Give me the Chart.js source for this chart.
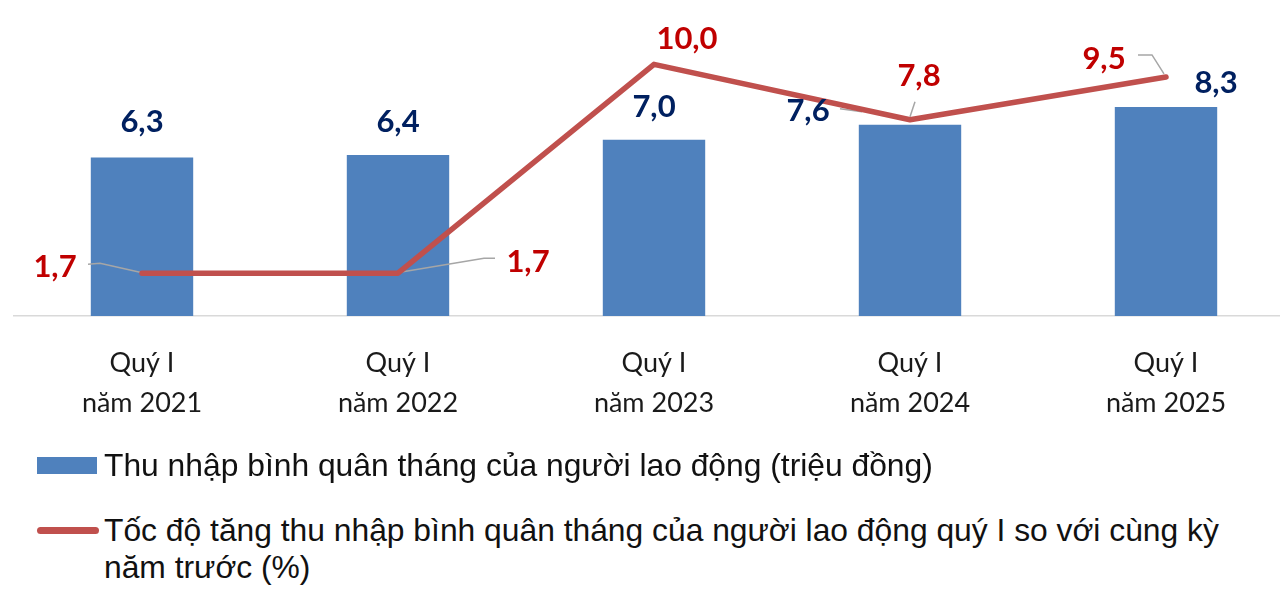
<!DOCTYPE html>
<html lang="vi">
<head>
<meta charset="utf-8">
<title>Thu nhập bình quân quý I</title>
<script src="https://cdn.jsdelivr.net/npm/chart.js@4.4.1/dist/chart.umd.min.js"></script>
<style>
  html, body { margin: 0; padding: 0; background: #fff; overflow: hidden; }
  body { width: 1280px; height: 610px; position: relative; }
  #wrap { position: absolute; left: 0; top: 0; width: 1294px; height: 468px; }
  .item { position: absolute; left: 0; font-family: "Liberation Sans", Arial, sans-serif;
          font-size: 31.8px; line-height: 37px; color: #111; }
  .item .txt { position: absolute; left: 104px; top: 0; white-space: nowrap; }
  .box { position: absolute; left: 37px; width: 60px; height: 17px; background: #4f81bd; top: 10px; }
  .ln { position: absolute; left: 37px; width: 62px; height: 7px; border-radius: 4px; background: #c0504d; top: 15px; }
</style>
</head>
<body>
<div id="wrap"><canvas id="chart"></canvas></div>

<div class="item" style="top:447px">
  <span class="box"></span>
  <span class="txt">Thu nhập bình quân tháng của người lao động (triệu đồng)</span>
</div>
<div class="item" style="top:512px">
  <span class="ln"></span>
  <span class="txt">Tốc độ tăng thu nhập bình quân tháng của người lao động quý I so với cùng kỳ<br>năm trước (%)</span>
</div>

<script>
"use strict";

const categories = [
  ['Quý I', 'năm 2021'],
  ['Quý I', 'năm 2022'],
  ['Quý I', 'năm 2023'],
  ['Quý I', 'năm 2024'],
  ['Quý I', 'năm 2025']
];
const income = [6.3, 6.4, 7.0, 7.6, 8.3];       // triệu đồng
const growth = [1.7, 1.7, 10.0, 7.8, 9.5];      // %

const BAR_COLOR = '#4f81bd';
const LINE_COLOR = '#c0504d';

// where each label sits relative to its mark (moved by hand in the original)
const barLabelShift = [[0, -35], [0, -33], [0, -33], [-102, -14], [50, -24]];
const lineLabelShift = [[-87, -6], [130, -11], [33, -25], [9, -44], [-62, -18]];
const lineLeaders = [
  [[-54, -9], [-42, -10], [-2, -1]],
  [[2, -1], [86, -15], [97, -15]],
  null,
  [[0, -3], [5, -18]],
  [[-2, -3], [-14, -22], [-28, -22]]
];

function fmt(v) {
  return v.toFixed(1).replace('.', ',');
}

const leaderPlugin = {
  id: 'leaders',
  // after the bars, before the line
  afterDatasetDraw(chart, args) {
    if (args.index !== 1) return;
    const ctx = chart.ctx;
    const pts = chart.getDatasetMeta(0).data;
    ctx.save();
    ctx.strokeStyle = '#a6a6a6';
    ctx.lineWidth = 1.5;
    lineLeaders.forEach((seg, i) => {
      if (!seg) return;
      const p = pts[i];
      ctx.beginPath();
      seg.forEach(([dx, dy], k) => {
        if (k === 0) ctx.moveTo(p.x + dx, p.y + dy);
        else ctx.lineTo(p.x + dx, p.y + dy);
      });
      ctx.stroke();
    });
    // little leader of the 7,6 label
    const b = chart.getDatasetMeta(1).data[3];
    ctx.beginPath();
    ctx.moveTo(b.x - 70, b.y - 16);
    ctx.lineTo(b.x - 48, b.y - 13);
    ctx.stroke();
    ctx.restore();
  }
};

const labelPlugin = {
  id: 'valueLabels',
  afterDatasetsDraw(chart) {
    const ctx = chart.ctx;
    ctx.save();
    ctx.font = 'bold 31px Lato, "DejaVu Sans", sans-serif';
    ctx.textAlign = 'center';
    ctx.textBaseline = 'middle';

    ctx.fillStyle = '#002060';
    chart.getDatasetMeta(1).data.forEach((bar, i) => {
      const [dx, dy] = barLabelShift[i];
      ctx.fillText(fmt(income[i]), bar.x + dx, bar.y + dy);
    });

    ctx.fillStyle = '#c00000';
    chart.getDatasetMeta(0).data.forEach((pt, i) => {
      const [dx, dy] = lineLabelShift[i];
      ctx.fillText(fmt(growth[i]), pt.x + dx, pt.y + dy);
    });
    ctx.restore();
  }
};

const chart = new Chart(document.getElementById('chart'), {
  data: {
    labels: categories,
    datasets: [
      {
        type: 'line',
        label: 'Tốc độ tăng thu nhập bình quân tháng của người lao động quý I so với cùng kỳ năm trước (%)',
        data: growth,
        borderColor: LINE_COLOR,
        borderWidth: 5.5,
        borderCapStyle: 'round',
        borderJoinStyle: 'round',
        pointRadius: 0,
        tension: 0,
        order: 0
      },
      {
        type: 'bar',
        label: 'Thu nhập bình quân tháng của người lao động (triệu đồng)',
        data: income,
        backgroundColor: BAR_COLOR,
        categoryPercentage: 1,
        barPercentage: 0.4,
        order: 1
      }
    ]
  },
  options: {
    responsive: true,
    maintainAspectRatio: false,
    animation: false,
    layout: { padding: { top: 14, bottom: 17, left: 14, right: 0 } },
    plugins: {
      legend: { display: false },
      tooltip: { enabled: false }
    },
    scales: {
      x: {
        grid: { display: false, drawTicks: false },
        border: { display: true, color: '#d9d9d9', width: 1.5 },
        ticks: {
          padding: 27,
          color: '#1a1a1a',
          font: { family: 'Lato', size: 27, lineHeight: 1.5 }
        }
      },
      y: {
        display: false,
        min: 0,
        max: 12
      }
    }
  },
  plugins: [leaderPlugin, labelPlugin]
});
</script>
</body>
</html>
